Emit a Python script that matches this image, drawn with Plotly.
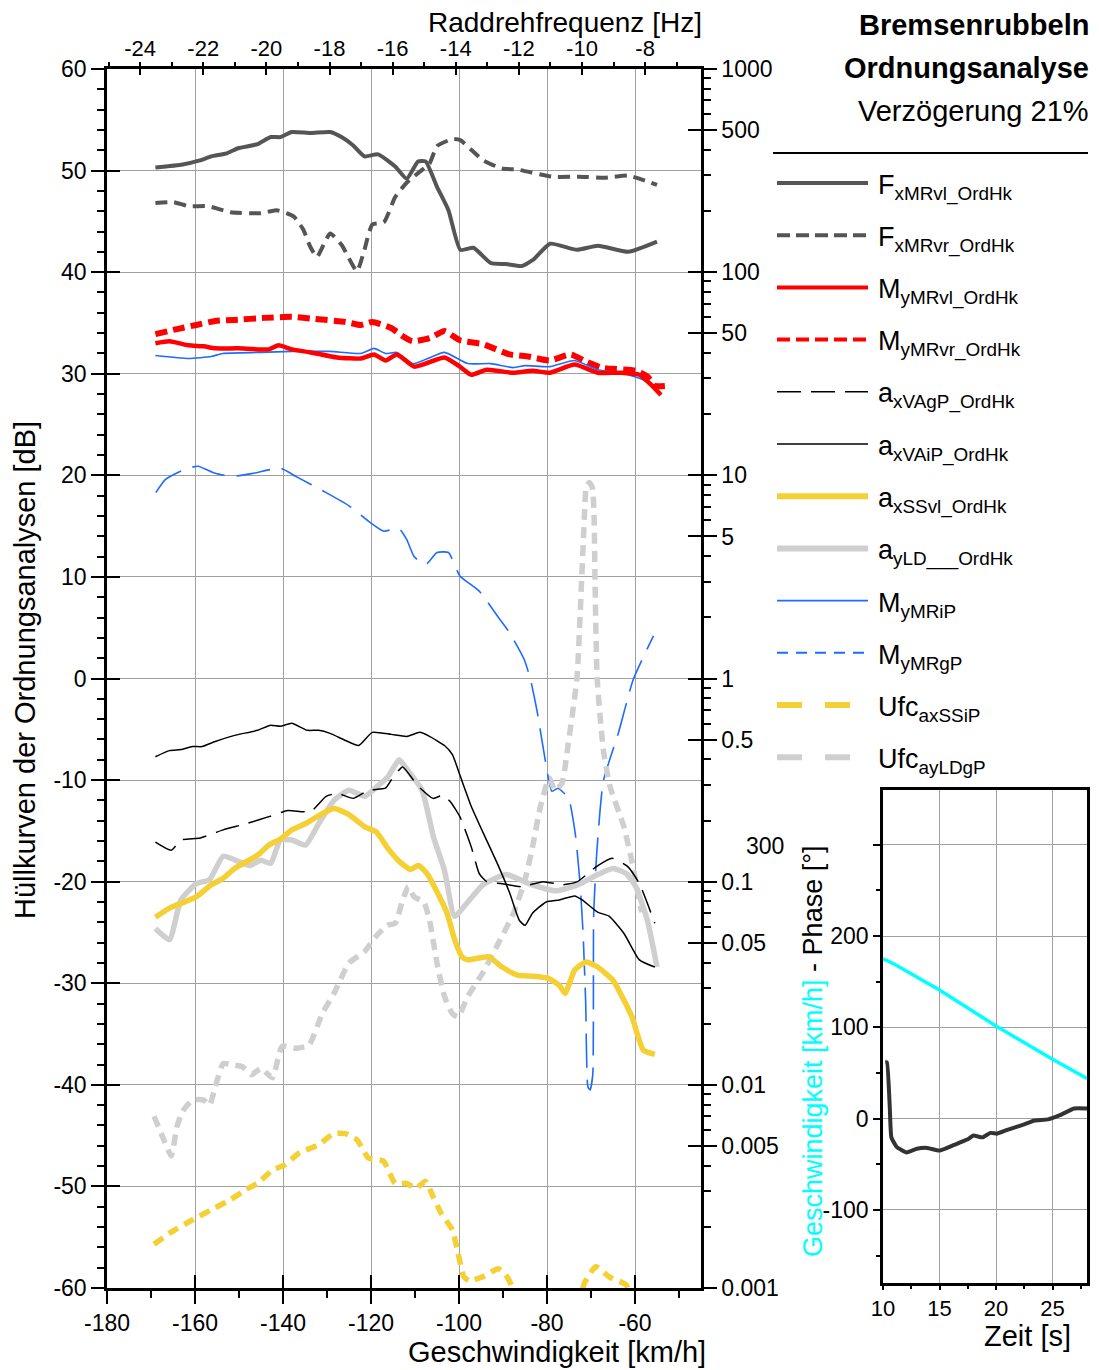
import plotly.graph_objects as go

# ---------------- data ----------------
v_FxMRvl = [-169, -162.8, -158.9, -156.3, -152.8, -150.2, -145.8, -142.8, -140.6, -138, -133.7, -129.3, -126.7, -124.1, -121.5, -118.4, -114.5, -111.9, -109.3, -107.6, -105, -102.4, -99.7, -96.7, -92.8, -89.3, -85.8, -83.2, -79.3, -73.2, -68.4, -61.5, -55]
db_FxMRvl = [50.3, 50.6, 51.0, 51.4, 51.7, 52.2, 52.6, 53.3, 53.3, 53.8, 53.7, 53.8, 53.3, 52.5, 51.4, 51.6, 50.4, 49.2, 50.9, 50.9, 48.4, 46.1, 42.2, 42.4, 40.9, 40.8, 40.6, 41.2, 42.8, 42.2, 42.6, 42.0, 43.0]

v_FxMRvr = [-169, -164.9, -161.5, -157.1, -151.9, -145, -141.5, -137.6, -135.4, -133.8, -132.3, -129.3, -126.7, -123.2, -121.5, -119.7, -117.1, -114.5, -111.9, -108.9, -106.7, -105, -101.5, -99.7, -97.1, -94.5, -90.2, -86.7, -78.9, -72.8, -66.7, -61.5, -55]
db_FxMRvr = [46.8, 46.9, 46.5, 46.5, 45.9, 45.8, 46.1, 45.5, 44.2, 42.5, 41.5, 43.8, 42.7, 40.1, 42.2, 44.7, 44.9, 47.4, 48.8, 49.9, 50.7, 52.4, 53.1, 53.0, 52.0, 51.0, 50.2, 50.1, 49.4, 49.4, 49.3, 49.5, 48.6]

v_MyMRvl = [-169, -165.8, -161.5, -158, -155.4, -150.2, -143.2, -141, -138, -133.7, -127.7, -122.3, -119.3, -116.7, -114.1, -110.2, -107.6, -103.3, -99.8, -97.2, -93.7, -87.7, -83.3, -79.4, -73.7, -68.5, -63.3, -59, -56.3, -54.1]
db_MyMRvl = [33.0, 33.2, 32.8, 32.7, 32.5, 32.5, 32.4, 32.8, 32.4, 32.1, 31.6, 31.5, 31.9, 31.3, 31.9, 30.7, 31.0, 31.6, 30.7, 29.9, 30.4, 30.1, 30.3, 30.1, 30.9, 30.1, 30.1, 29.9, 28.9, 27.9]

v_MyMRvr = [-169, -164.1, -159.7, -155.4, -151, -144.1, -138, -132.8, -125.8, -122.3, -119.7, -115.4, -112.8, -110.6, -106.7, -103.3, -99.8, -94.5, -88.5, -84.2, -79.4, -74.6, -71.1, -67.6, -59.8, -57.1, -55.4, -52.8]
db_MyMRvr = [33.9, 34.4, 34.8, 35.2, 35.3, 35.5, 35.6, 35.4, 35.1, 34.8, 35.1, 34.5, 33.7, 33.2, 33.5, 34.2, 33.3, 32.9, 31.9, 31.7, 31.3, 31.9, 31.2, 30.6, 30.3, 29.7, 28.8, 28.8]

v_axVAgP = [-169, -165.4, -163.2, -158.8, -153.6, -148.4, -143.2, -138.9, -133.7, -130.2, -127.6, -124.1, -120.6, -116.7, -115.4, -112.8, -109.5, -105.9, -103.7, -102, -99.8, -97.2, -95.4, -93.7, -90.2, -85.9, -80.9, -76.5, -73.1, -68.7, -65.2, -61.7, -59, -55.5]
db_axVAgP = [-16.1, -16.9, -15.9, -15.7, -14.9, -14.3, -13.6, -13.0, -13.1, -11.6, -11.3, -11.8, -11.0, -10.8, -10.0, -8.7, -10.5, -11.8, -11.5, -12.1, -13.6, -16.6, -19.2, -20.0, -20.2, -20.5, -20.0, -20.3, -20.0, -18.5, -17.7, -18.5, -20.2, -24.1]

v_axVAiP = [-169, -165.8, -163.2, -160.6, -158.4, -155.4, -151, -145.8, -142.8, -140.6, -138, -134.5, -131.9, -129.3, -125.8, -122.8, -119.7, -115.4, -111.9, -108.9, -106.7, -103.3, -101.5, -99.8, -97.2, -94.5, -91.1, -88.5, -86.3, -85, -83.3, -80.2, -77.2, -73.7, -72, -68.5, -65.9, -62.5, -59, -55.5]
db_axVAiP = [-7.7, -7.1, -7.0, -6.7, -6.7, -6.2, -5.6, -5.1, -4.6, -4.7, -4.4, -5.1, -5.1, -5.4, -6.1, -6.6, -5.3, -5.5, -5.7, -5.3, -5.7, -6.6, -7.5, -9.5, -12.6, -15.2, -18.4, -21.1, -23.8, -24.3, -23.1, -22.0, -21.8, -21.4, -21.8, -23.0, -23.4, -25.1, -27.7, -28.4]

v_axSSvl = [-169, -165.8, -159.7, -156.3, -153.7, -151, -145.8, -143.2, -140.6, -138, -134.5, -131.5, -128.4, -125, -121.4, -118.8, -116.2, -113.6, -111, -109.2, -107.1, -104.9, -102.7, -101, -99.3, -98, -93.3, -90.2, -86.7, -83.3, -79.8, -77.2, -75.9, -73.7, -71.1, -68.5, -65, -63.3, -60.7, -58.1, -55.5]
db_axSSvl = [-23.5, -22.6, -21.5, -20.3, -19.7, -18.7, -17.4, -16.4, -15.8, -14.9, -14.2, -13.4, -12.8, -13.4, -14.6, -15.1, -16.7, -18.0, -18.8, -18.4, -19.3, -21.1, -23.1, -25.7, -27.4, -27.7, -27.4, -28.4, -29.2, -29.3, -29.5, -30.2, -31.0, -28.7, -27.9, -28.4, -29.7, -31.0, -33.3, -36.6, -37.0]

v_ayLD = [-169, -165.8, -163.2, -159.7, -156.7, -153.6, -150.2, -147.5, -145, -142.8, -140.6, -138, -134.9, -131.9, -128.4, -125, -121.4, -118.8, -116.2, -113.6, -111.9, -108.4, -105.8, -103.3, -101, -98, -94.5, -89.3, -84.1, -78.1, -72.9, -68.5, -65, -62, -59.8, -57.2, -55]
db_ayLD = [-24.6, -25.7, -21.8, -20.2, -19.8, -17.5, -18.0, -18.4, -17.9, -18.2, -15.9, -15.9, -16.4, -14.3, -12.0, -11.0, -11.6, -10.7, -9.7, -8.0, -8.9, -11.0, -15.6, -18.9, -23.4, -22.0, -20.3, -19.3, -20.2, -20.9, -20.3, -19.3, -18.7, -19.2, -20.5, -23.8, -28.4]

v_MyMRiP = [-169, -161.5, -156.3, -153.7, -145, -138, -129.3, -122.3, -119.3, -116.7, -114.1, -110.6, -107.6, -103.3, -98, -92.8, -87.7, -85, -79.4, -73.7, -68.5, -63.3, -58.1, -55]
db_MyMRiP = [31.8, 31.5, 31.7, 32.0, 32.1, 32.2, 32.2, 32.0, 32.5, 32.0, 32.1, 31.0, 31.4, 32.1, 31.0, 31.0, 30.6, 30.8, 30.7, 31.3, 30.4, 30.1, 29.4, 28.4]

v_MyMRgP = [-168.9, -166.7, -162.3, -159.3, -155.4, -151.5, -146.7, -140.6, -137.1, -130.2, -125, -120.6, -117.1, -113.7, -111.9, -110.2, -107.6, -105, -102.4, -99.8, -95.4, -90.7, -88.5, -85.2, -83.8, -82.3, -80.8, -79.6, -78.9, -77.5, -75.1, -73.6, -72.5, -71.8, -71.2, -70.7, -70.2, -69.6, -69.4, -68.7, -67.2, -63.8, -60.4, -55.8]
db_MyMRgP = [18.3, 19.6, 20.6, 20.9, 20.2, 19.9, 20.2, 20.7, 19.9, 18.3, 17.0, 15.5, 14.5, 14.8, 13.7, 12.0, 11.2, 12.4, 12.4, 10.1, 8.6, 5.8, 4.5, 1.9, 0.0, -3.1, -7.0, -10.0, -11.1, -10.8, -11.8, -15.2, -20.1, -25.1, -32.0, -40.2, -40.5, -39.0, -23.4, -17.2, -10.1, -5.4, -0.1, 4.2]

v_UfcaxSSiP = [-169.3, -165.8, -160.6, -155.4, -151.9, -148.4, -145.8, -142.4, -139.7, -136.3, -131.9, -128.5, -125.8, -123.2, -120.6, -117.2, -114.5, -111.9, -109.8, -107.6, -105.9, -104.1, -101.5, -100.2, -98.9, -97.6, -94.6, -91.1, -89.4, -88, -87, -73, -71.5, -68.9, -65.9, -62, -60.5]
db_UfcaxSSiP = [-55.7, -54.6, -53.3, -52.1, -51.3, -50.3, -49.7, -48.4, -47.9, -46.7, -45.9, -44.8, -44.8, -45.4, -47.2, -47.5, -49.7, -49.7, -50.2, -49.5, -51.0, -52.6, -54.3, -56.6, -58.9, -59.3, -58.9, -58.1, -58.7, -59.8, -61.5, -61.5, -59.5, -57.9, -58.9, -59.7, -61.5]

v_UfcayLDgP = [-169.3, -167.1, -165.4, -164.1, -162.8, -160.6, -158, -156.7, -155.4, -153.6, -151.9, -149.3, -147.2, -145, -142.4, -140.2, -137.1, -134.1, -131.1, -128.4, -125, -121.5, -118.9, -116.3, -114.5, -112.8, -111.5, -110.2, -108, -106.7, -105, -103.3, -101.5, -100.2, -98, -94.5, -91.1, -87.6, -85, -83.3, -81.5, -79.5, -78.2, -76.6, -75.2, -73.2, -72.1, -71.5, -71.1, -70.4, -69.7, -69.3, -69.1, -68.6, -67.2, -65.7, -62.6, -60.8, -59.6, -58.5]
db_UfcayLDgP = [-43.1, -45.4, -47.0, -44.1, -42.6, -41.5, -41.5, -42.0, -40.2, -37.9, -38.0, -38.2, -39.0, -38.4, -39.3, -36.2, -36.4, -36.1, -33.0, -31.0, -28.0, -26.9, -25.4, -24.3, -24.1, -21.8, -20.5, -21.5, -22.0, -23.8, -28.0, -31.3, -33.0, -33.3, -31.3, -28.9, -26.1, -23.1, -19.8, -16.6, -12.6, -9.8, -11.0, -10.3, -6.5, 0.0, 10.0, 16.0, 18.8, 19.3, 18.8, 16.0, 10.0, 0.0, -7.0, -10.6, -14.5, -17.8, -20.5, -23.0]

# inset: time [s]
t_phase = [10.2, 10.35, 10.6, 10.74, 11.2, 12.1, 13, 13.9, 15, 16.3, 17.5, 18, 18.8, 19.5, 20.1, 21, 22.5, 23.4, 24.6, 25.7, 26.9, 28.05]
phase = [61.6, 61.6, 12.3, -20.5, -30.8, -37, -32.9, -32, -35, -28.7, -22.6, -18.5, -20.5, -15.6, -16.4, -12.3, -6.2, -2, -0.8, 4.1, 11.1, 11.1]
t_speed = [10, 10.9, 15, 20, 25, 28.05]
speed = [175, 170, 141, 101.5, 65, 44]

# tick labels
y_ticks = list(range(-60, 61, 10))
y_minor = [v for v in range(-60, 61, 2) if v % 10]
x_ticks = list(range(-180, -44, 20))
x_minor = list(range(-170, -44, 20))
f_ticks = list(range(-24, -7, 2))
f_minor = list(range(-25, -6, 2))
right_tickvals = [1000, 500, 100, 50, 10, 5, 1, 0.5, 0.1, 0.05, 0.01, 0.005, 0.001]
right_ticktext = ["1000", "500", "100", "50", "10", "5", "1", "0.5", "0.1", "0.05", "0.01", "0.005", "0.001"]
t_ticks = [10, 15, 20, 25]
t_minor = [12.5, 17.5, 22.5, 27.5]
p_ticks = [-100, 0, 100, 200, 300]
p_minor = [-150, -50, 50, 150, 250]

legend_labels = ["F<sub>xMRvl_OrdHk</sub>", "F<sub>xMRvr_OrdHk</sub>", "M<sub>yMRvl_OrdHk</sub>",
                 "M<sub>yMRvr_OrdHk</sub>", "a<sub>xVAgP_OrdHk</sub>", "a<sub>xVAiP_OrdHk</sub>",
                 "a<sub>xSSvl_OrdHk</sub>", "a<sub>yLD___OrdHk</sub>", "M<sub>yMRiP</sub>",
                 "M<sub>yMRgP</sub>", "Ufc<sub>axSSiP</sub>", "Ufc<sub>ayLDgP</sub>"]

# ---------------- styles ----------------
FONT = "Liberation Sans, Arial, sans-serif"
DGREY = "#555555"
RED = "#ff0000"
YEL = "#f4d035"
LGREY = "#cfcfcf"
BLUE = "#1f6bff"
GRID = "#a0a0a0"
TITLE_SIZE = 29
TICK_SIZE = 23

OFF = 8  # default body margin of the html page
W, H = 1099 - OFF, 1370 - OFF
def px(x): return (x - OFF) / W
def py(y): return 1 - (y - OFF) / H
def lab(v): return str(v)

series = [
    (v_FxMRvl, db_FxMRvl, dict(color=DGREY, width=4)),
    (v_FxMRvr, db_FxMRvr, dict(color=DGREY, width=4, dash="12px,7px")),
    (v_MyMRvr, db_MyMRvr, dict(color=RED, width=6, dash="12px,6px")),
    (v_MyMRiP, db_MyMRiP, dict(color=BLUE, width=1.6)),
    (v_MyMRvl, db_MyMRvl, dict(color=RED, width=4.5)),
    (v_MyMRgP, db_MyMRgP, dict(color=BLUE, width=1.6, dash="34px,12px")),
    (v_ayLD, db_ayLD, dict(color=LGREY, width=5.5)),
    (v_UfcayLDgP, db_UfcayLDgP, dict(color=LGREY, width=5.5, dash="11px,7px")),
    (v_axVAgP, db_axVAgP, dict(color="black", width=1.5, dash="24px,10px")),
    (v_axVAiP, db_axVAiP, dict(color="black", width=1.5)),
    (v_axSSvl, db_axSSvl, dict(color=YEL, width=5.5)),
    (v_UfcaxSSiP, db_UfcaxSSiP, dict(color=YEL, width=5.5, dash="11px,7px")),
]

fig = go.Figure()
for xs, ys, ln in series:
    fig.add_trace(go.Scatter(x=xs, y=ys, mode="lines", line=dict(shape="spline", smoothing=0.5, **ln),
                             xaxis="x", yaxis="y", showlegend=False, hoverinfo="skip"))

# dummy traces so overlay axes are drawn
for xa, ya in [("x3", "y"), ("x4", "y"), ("x5", "y"), ("x", "y2"), ("x", "y3"), ("x", "y4")]:
    fig.add_trace(go.Scatter(x=[None], y=[None], xaxis=xa, yaxis=ya, showlegend=False, hoverinfo="skip"))

# inset traces
fig.add_trace(go.Scatter(x=t_speed, y=speed, mode="lines", line=dict(color="#00ffff", width=3.5),
                         xaxis="x2", yaxis="y5", showlegend=False, hoverinfo="skip"))
fig.add_trace(go.Scatter(x=t_phase, y=phase, mode="lines", line=dict(color="#333333", width=4, shape="spline", smoothing=0.4),
                         xaxis="x2", yaxis="y5", showlegend=False, hoverinfo="skip"))

tickfont = dict(family=FONT, size=TICK_SIZE, color="black")
XD = [px(107), px(701)]
YD = [py(1288), py(69)]

minor_log = [m * 10 ** e for e in range(-3, 3) for m in range(2, 10)]

def mnr(vals, ln, w=2):
    return dict(tickmode="array", tickvals=vals, ticklen=ln, tickwidth=w, tickcolor="black", showgrid=False)

common_x = dict(domain=XD, range=[-180, -45], tickmode="array", tickvals=x_ticks,
                ticktext=[lab(v) for v in x_ticks], ticklen=13, tickwidth=2, tickcolor="black",
                minor=mnr(x_minor, 7), automargin=False)
common_top = dict(domain=XD, range=[-25.05, -6.23], tickmode="array", tickvals=f_ticks,
                  ticktext=[lab(v) for v in f_ticks], tickwidth=1.5, tickcolor="black", automargin=False)
common_y = dict(domain=YD, range=[-60, 60], tickmode="array", tickvals=y_ticks,
                ticktext=[lab(v) for v in y_ticks], ticklen=13, tickwidth=2, tickcolor="black",
                minor=mnr(y_minor, 7), automargin=False)
common_r = dict(domain=YD, type="log", range=[-3, 3], tickmode="array", tickvals=right_tickvals,
                ticktext=right_ticktext, ticklen=13, tickwidth=2, tickcolor="black",
                minor=mnr(minor_log, 7), automargin=False)

fig.update_layout(
    width=W, height=H, autosize=False,
    margin=dict(l=0, r=0, t=0, b=0, pad=0, autoexpand=False),
    paper_bgcolor="white", plot_bgcolor="white",
    showlegend=False,
    font=dict(family=FONT, color="black"),
    xaxis=dict(**common_x, anchor="y", side="bottom", ticks="outside", showline=True, linewidth=2.5,
               linecolor="black", showgrid=True, gridcolor=GRID, gridwidth=1, zeroline=False,
               tickfont=tickfont),
    xaxis3=dict(**common_x, anchor="y", overlaying="x", side="bottom", ticks="inside", showline=False,
                showgrid=False, zeroline=False, showticklabels=False),
    xaxis4=dict(**common_top, anchor="y", overlaying="x", side="top", ticks="outside", ticklen=4,
                minor=mnr(f_minor, 4, 1.5), showline=True, ticklabelstandoff=-3,
                linewidth=2.5, linecolor="black", showgrid=False, zeroline=False,
                tickfont=dict(family=FONT, size=22, color="black")),
    xaxis5=dict(**common_top, anchor="y", overlaying="x", side="top", ticks="inside", ticklen=6,
                minor=mnr(f_minor, 5, 1.5), showline=False,
                showgrid=False, zeroline=False, showticklabels=False),
    yaxis=dict(**common_y, anchor="x", side="left", ticks="outside", showline=True, linewidth=2.5,
               linecolor="black", showgrid=True, gridcolor=GRID, gridwidth=1, zeroline=False,
               tickfont=tickfont),
    yaxis3=dict(**common_y, anchor="x", overlaying="y", side="left", ticks="inside", showline=False,
                showgrid=False, zeroline=False, showticklabels=False),
    yaxis2=dict(**common_r, anchor="x", overlaying="y", side="right", ticks="outside", showline=True,
                linewidth=2.5, linecolor="black", showgrid=False, zeroline=False, tickfont=tickfont),
    yaxis4=dict(**common_r, anchor="x", overlaying="y", side="right", ticks="inside", showline=False,
                showgrid=False, zeroline=False, showticklabels=False),
    # inset
    xaxis2=dict(domain=[px(883), px(1087)], range=[10, 28.05], anchor="y5", tickmode="array",
                tickvals=t_ticks, ticktext=[lab(v) for v in t_ticks],
                ticks="outside", ticklen=4, tickwidth=2, tickcolor="black", minor=mnr(t_minor, 3, 1.5),
                showline=True, mirror=True, linewidth=2.5, linecolor="black", showgrid=True,
                gridcolor=GRID, gridwidth=1, zeroline=False,
                tickfont=dict(family=FONT, size=22, color="black"), automargin=False),
    yaxis5=dict(domain=[py(1283), py(790)], range=[-180, 360], anchor="x2", tickmode="array",
                tickvals=p_ticks, ticktext=["-100", "0", "100", "200", ""],
                ticks="outside", ticklen=7, tickwidth=2, tickcolor="black", minor=mnr(p_minor, 4, 1.5),
                showline=True, mirror=True, linewidth=2.5, linecolor="black", showgrid=True,
                gridcolor=GRID, gridwidth=1, zeroline=False, tickfont=tickfont, automargin=False),
)

ann = []
shapes = []
# titles
ann.append(dict(text="<b>Bremsenrubbeln</b>", x=px(1091), y=py(25), xanchor="right", yanchor="middle",
                font=dict(size=TITLE_SIZE, family=FONT)))
ann.append(dict(text="<b>Ordnungsanalyse</b>", x=px(1091), y=py(68), xanchor="right", yanchor="middle",
                font=dict(size=TITLE_SIZE, family=FONT)))
ann.append(dict(text="Verzögerung 21%", x=px(1091), y=py(111), xanchor="right", yanchor="middle",
                font=dict(size=TITLE_SIZE, family=FONT)))
shapes.append(dict(type="line", xref="paper", yref="paper", x0=px(773), x1=px(1088), y0=py(153), y1=py(153),
                   line=dict(color="black", width=2)))
# axis titles
ann.append(dict(text="Raddrehfrequenz [Hz]", x=px(704), y=py(23), xanchor="right", yanchor="middle",
                font=dict(size=28, family=FONT)))
ann.append(dict(text="Geschwindigkeit [km/h]", x=px(708), y=py(1352), xanchor="right", yanchor="middle",
                font=dict(size=TITLE_SIZE, family=FONT)))
ann.append(dict(text="Hüllkurven der Ordnungsanalysen [dB]", x=px(25), y=py(670), xanchor="center",
                yanchor="middle", textangle=-90, font=dict(size=TITLE_SIZE, family=FONT)))
ann.append(dict(text="<span style='color:#00ffff'>Geschwindigkeit [km/h]</span> - Phase [°]", x=px(813),
                y=py(1052), xanchor="center", yanchor="middle", textangle=-90,
                font=dict(size=27, family=FONT)))
ann.append(dict(text="Zeit [s]", x=px(1027), y=py(1336), xanchor="center", yanchor="middle",
                font=dict(size=TITLE_SIZE, family=FONT)))
ann.append(dict(text="300", x=px(765), y=py(846), xanchor="center", yanchor="middle",
                font=dict(size=TICK_SIZE, family=FONT)))

# legend
leg_styles = [
    dict(color=DGREY, width=4),
    dict(color=DGREY, width=4, dash="13px,6px"),
    dict(color=RED, width=4),
    dict(color=RED, width=4, dash="13px,6px"),
    dict(color="black", width=1.5, dash="24px,10px"),
    dict(color="black", width=1.5),
    dict(color=YEL, width=6),
    dict(color=LGREY, width=6),
    dict(color=BLUE, width=1.6),
    dict(color=BLUE, width=2, dash="11px,8px"),
    dict(color=YEL, width=6, dash="25px,23px"),
    dict(color=LGREY, width=6, dash="25px,23px"),
]
for i, (lb, st) in enumerate(zip(legend_labels, leg_styles)):
    ly = 183 + i * 52.2
    shapes.append(dict(type="line", xref="paper", yref="paper", x0=px(777), x1=px(868), y0=py(ly), y1=py(ly),
                       line=st))
    ann.append(dict(text=lb, x=px(876), y=py(ly + 4), xanchor="left", yanchor="middle",
                    font=dict(size=27, family=FONT)))

for a in ann:
    a.update(xref="paper", yref="paper", showarrow=False)
fig.update_layout(annotations=ann, shapes=shapes)

fig.write_html("out.html")
